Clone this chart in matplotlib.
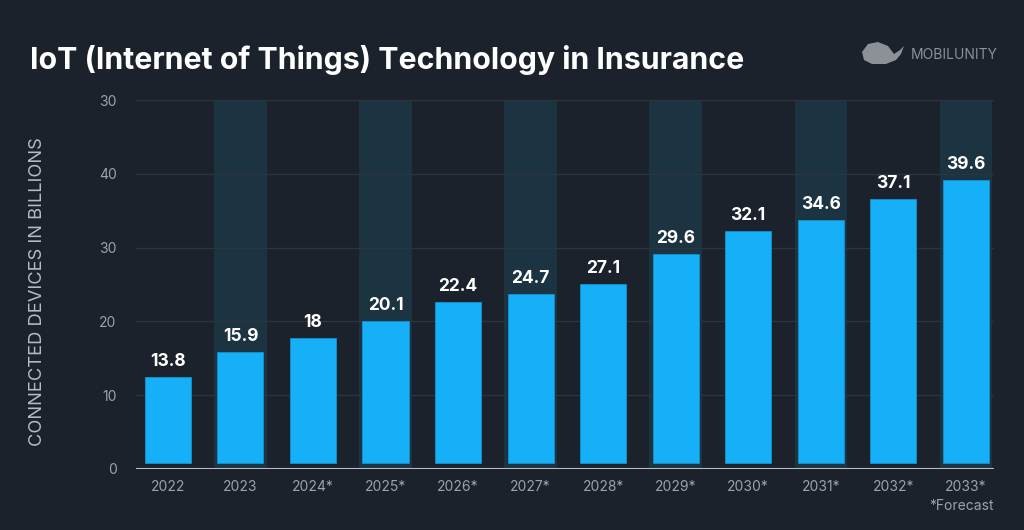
import matplotlib

matplotlib.use("Agg")
import matplotlib.pyplot as plt
from matplotlib.patches import Polygon

# values
years = ["2022", "2023", "2024*", "2025*", "2026*", "2027*",
         "2028*", "2029*", "2030*", "2031*", "2032*", "2033*"]
bar_heights = [12.5, 15.8, 17.8, 20.1, 22.6, 23.7, 25.1, 29.1, 32.2, 33.7, 36.6, 39.1]
bar_labels = ["13.8", "15.9", "18", "20.1", "22.4", "24.7",
              "27.1", "29.6", "32.1", "34.6", "37.1", "39.6"]
y_ticks = [0, 10, 20, 30, 40, 50]
y_tick_labels = ["0", "10", "20", "30", "40", "30"]

BG = "#1b222b"
BAR = "#16b0f8"
BAND = "#1c3341"
GRID = "#2b353f"
TXT = "#9ca3aa"

plt.rcParams["font.family"] = ["Inter", "DejaVu Sans"]

fig = plt.figure(figsize=(10.24, 5.3), dpi=100, facecolor=BG)
ax = fig.add_axes([136 / 1024, 1 - 469 / 530, (994 - 136) / 1024, (469 - 100) / 530])
ax.set_facecolor(BG)

x = list(range(len(years)))
ax.set_xlim(-0.44, 11.39)
ax.set_ylim(0, 50)

# alternating column bands
for i in x:
    if i % 2 == 1:
        ax.axvspan(i - 0.36, i + 0.36, ymin=0, ymax=1, color=BAND, zorder=0, lw=0)

for yt in y_ticks[1:]:
    ax.axhline(yt, color=GRID, lw=1, zorder=1)
ax.axhline(0, color="#b9bec3", lw=1.5, zorder=3)

gap = 0.8
ax.bar(x, [h - gap for h in bar_heights], bottom=gap, width=0.635, color=BAR,
       edgecolor="#1492cc", linewidth=0.6, zorder=2)
for i, (h, lab) in enumerate(zip(bar_heights, bar_labels)):
    ax.annotate(lab, (i, h), xytext=(0, 5), textcoords="offset points",
                ha="center", va="bottom", color="white", fontsize=12.5,
                fontweight="bold")

ax.set_xticks(x)
ax.set_xticklabels(years, color=TXT, fontsize=10)
ax.set_yticks(y_ticks)
ax.set_yticklabels(y_tick_labels, color=TXT, fontsize=10)
ax.tick_params(length=0, pad=8)
ax.tick_params(axis="y", pad=14)
for s in ax.spines.values():
    s.set_visible(False)

fig.text(38 / 1024, 1 - 292 / 530, "CONNECTED DEVICES IN BILLIONS", rotation=90,
         ha="center", va="center", color="#b7bcc1", fontsize=13.2)
fig.text(30 / 1024, 1 - 60 / 530, "IoT (Internet of Things) Technology in Insurance",
         ha="left", va="center", color="white", fontsize=21.8, fontweight="bold")
fig.text(994 / 1024, 1 - 506 / 530, "*Forecast", ha="right", va="center",
         color=TXT, fontsize=10)

# logo
fig.text(998 / 1024, 1 - 55 / 530, "MOBILUNITY", ha="right", va="center",
         color="#8b9197", fontsize=10)
whale = [(862, 52), (868, 44), (878, 42), (888, 46), (894, 54), (900, 50),
         (904, 46), (901, 54), (896, 60), (886, 64), (872, 64), (864, 60)]
fig.patches.append(Polygon([(px / 1024, 1 - py / 530) for px, py in whale],
                           closed=True, transform=fig.transFigure,
                           facecolor="#8b9197", edgecolor="none"))

fig.savefig("out.png", dpi=100, facecolor=BG)
